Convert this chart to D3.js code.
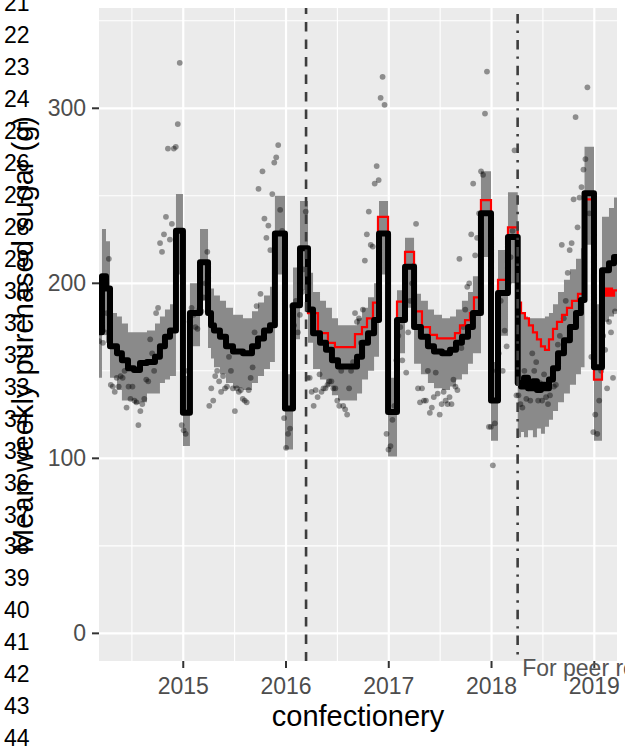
<!DOCTYPE html>
<html>
<head>
<meta charset="utf-8">
<script src="https://cdn.jsdelivr.net/npm/d3@7"></script>
<style>
  body { margin: 0; background: #fff; }
  svg { display: block; font-family: "Liberation Sans", Arial, Helvetica, sans-serif; }
</style>
</head>
<body>
<svg id="chart" width="625" height="755"></svg>
<script>
'use strict';

// ---- values ----
var xTicks = [2015, 2016, 2017, 2018, 2019];
var xMinor = [2014.5, 2015.5, 2016.5, 2017.5, 2018.5];
var yTicks = [0, 100, 200, 300];
var yMinor = [50, 150, 250, 350];
var lineNumbers = [21, 22, 23, 24, 25, 26, 27, 28, 29, 30, 31, 32,
  33, 34, 35, 36, 37, 38, 39, 40, 41, 42, 43, 44];

// announcement and levy start (decimal years)
var interventions = [2016.195, 2018.254];

// fitted model: step breakpoints, fitted mean and its band
var fitYears = [
  2014.180, 2014.209, 2014.248, 2014.287, 2014.355, 2014.403, 2014.462, 2014.520, 2014.579, 2014.647,
  2014.725, 2014.773, 2014.822, 2014.871, 2014.929, 2014.997, 2015.065, 2015.163, 2015.241, 2015.270,
  2015.299, 2015.357, 2015.416, 2015.484, 2015.581, 2015.669, 2015.727, 2015.786, 2015.844, 2015.892,
  2015.990, 2016.068, 2016.136, 2016.214, 2016.263, 2016.331, 2016.389, 2016.447, 2016.506, 2016.691,
  2016.740, 2016.798, 2016.857, 2016.905, 2016.993, 2017.080, 2017.158, 2017.246, 2017.313, 2017.381,
  2017.440, 2017.518, 2017.596, 2017.654, 2017.712, 2017.771, 2017.819, 2017.897, 2017.995, 2018.063,
  2018.160, 2018.255, 2018.287, 2018.316, 2018.355, 2018.403, 2018.442, 2018.481, 2018.520, 2018.559,
  2018.598, 2018.647, 2018.705, 2018.763, 2018.822, 2018.870, 2018.905, 2018.997, 2019.075, 2019.143,
  2019.192
];
var fitValues = [
  172, 204, 197, 164, 160, 156, 151.5, 150.5, 154.5, 155,
  158, 164, 169.5, 173, 230, 126, 183, 212, 183, 176,
  173, 169.5, 164, 161, 160, 164, 168.5, 173, 176, 228.5,
  128.5, 187.5, 220, 185, 171.5, 166, 162, 156, 152.5, 158,
  166, 171.5, 179, 228.5, 126.5, 179, 209.5, 175, 169.5, 164,
  161, 160, 162, 166, 169.5, 175, 183, 240, 133, 194.5,
  226.5, 143, 141, 146, 140, 144, 139, 142, 140, 145,
  151.5, 160, 167.5, 175, 183, 190.5, 251.5, 152, 207.5, 211.5,
  215
];
var fitLower = [
  146, 172, 166, 146, 139, 133, 133, 131, 132, 137,
  137, 143, 145, 147, 205, 107, 164, 190, 163, 157,
  152, 148, 143, 140, 139, 143, 147, 151, 155, 205,
  105, 168, 196, 166, 151, 145, 141, 136, 133, 137,
  145, 150, 158, 205, 101, 160, 186, 154, 148, 143,
  140, 139, 141, 145, 148, 154, 160, 215, 110, 170,
  200, 112, 115, 112, 116, 112, 117, 114, 118, 122,
  127, 132, 137, 142, 148, 152, 222, 110, 178, 181,
  184
];
var fitUpper = [
  196, 231, 224, 183, 181, 177, 172, 172, 172, 173,
  177, 181, 185, 188, 251, 147, 200, 231, 202, 197,
  193, 190, 186, 182, 180, 184, 189, 193, 198, 250,
  148, 209, 247, 206, 195, 190, 186, 180, 176, 180,
  186, 192, 200, 247, 146, 196, 226, 194, 190, 185,
  182, 180, 181, 185, 190, 195, 204, 264, 155, 219,
  252, 185, 183, 181, 180, 180, 180, 180, 181, 183,
  188, 195, 202, 208, 214, 220, 278, 188, 238, 243,
  249
];

// counterfactual (no levy) from the announcement on
var cfYears = [
  2016.195, 2016.214, 2016.311, 2016.408, 2016.476, 2016.671, 2016.739, 2016.788, 2016.846, 2016.895,
  2016.993, 2017.080, 2017.158, 2017.246, 2017.323, 2017.401, 2017.469, 2017.644, 2017.693, 2017.742,
  2017.790, 2017.829, 2017.897, 2017.995, 2018.063, 2018.160, 2018.255, 2018.287, 2018.325, 2018.364,
  2018.403, 2018.442, 2018.481, 2018.520, 2018.559, 2018.598, 2018.637, 2018.686, 2018.734, 2018.783,
  2018.841, 2018.905, 2018.997, 2019.075, 2019.094, 2019.114, 2019.133, 2019.153, 2019.172, 2019.192
];
var cfValues = [
  220, 183, 171.5, 166, 163.5, 171, 175, 180, 189, 238,
  126.5, 189.5, 218, 184, 175, 170.5, 168.5, 171.5, 176, 179,
  183, 192, 247.5, 133, 202, 232, 189, 183, 180, 176,
  172, 168, 164, 162, 168, 174, 178, 182, 186, 190,
  194, 248, 145, 198, 193, 197, 193, 197, 193, 196
];

// weekly observed means, first week 2014.180
var firstWeek = 2014.180;
var weekLength = 7 / 365.25;
var observed = [
  // 2014
  167, 177, 166, 172, 183, 214, 142, 141, 138, 146, 141, 147, 146, 150, 129, 141, 134, 141, 133, 132,
  119, 127, 131, 134, 145, 144, 168, 160, 150, 183, 186, 223, 218, 228, 238, 277, 225, 234, 277, 278,
  291, 326, 119,
  // 2015
  116, 114, 150, 178, 186, 182, 175, 174, 185, 184, 192, 200, 218, 130, 140, 133, 147, 150, 144, 138,
  147, 140, 141, 158, 150, 140, 127, 140, 138, 139, 134, 133, 132, 139, 146, 152, 172, 187, 254, 194,
  264, 237, 226, 233, 219, 251, 269, 272, 279, 242, 230, 123, 106,
  // 2016
  114, 117, 187, 176, 190, 172, 182, 195, 208, 241, 146, 146, 138, 130, 139, 135, 148, 138, 140, 140,
  142, 144, 144, 140, 140, 133, 130, 150, 130, 128, 125, 140, 150, 155, 183, 178, 180, 166, 185, 213,
  228, 241, 222, 221, 257, 267, 259, 306, 318, 302, 114, 105,
  // 2017
  107, 122, 130, 156, 170, 175, 156, 180, 149, 172, 190, 200, 210, 234, 140, 132, 140, 133, 133, 150,
  126, 129, 135, 149, 137, 125, 131, 138, 133, 131, 135, 131, 145, 141, 139, 214, 163, 175, 185, 198,
  200, 228, 257, 216, 226, 240, 264, 262, 297, 321, 118, 118,
  // 2018 and early 2019
  96, 120, 150, 160, 190, 150, 173, 164, 200, 215, 230, 276, 136, 136, 131, 129, 150, 134, 140, 133,
  160, 150, 155, 133, 143, 133, 148, 135, 131, 136, 145, 141, 142, 165, 170, 222, 180, 190, 206, 219,
  223, 248, 295, 232, 249, 255, 265, 271, 312, 240, 158, 115, 125, 114, 133, 150, 170, 162, 140, 178,
  172, 146, 184
];

// ---- layout ----
var W = 625, H = 755;
var panel = { left: 99, right: 617, top: 8, bottom: 661 };

var x = d3.scaleLinear().domain([2014.180, 2019.221]).range([panel.left, panel.right]);
var y = d3.scaleLinear().domain([-15.8, 357.3]).range([panel.bottom, panel.top]);

var svg = d3.select('#chart');

svg.append('rect').attr('width', W).attr('height', H).attr('fill', '#fff');

svg.append('defs').append('clipPath').attr('id', 'panel-clip')
  .append('rect')
  .attr('x', panel.left).attr('y', panel.top)
  .attr('width', panel.right - panel.left).attr('height', panel.bottom - panel.top);

svg.append('rect')
  .attr('x', panel.left).attr('y', panel.top)
  .attr('width', panel.right - panel.left).attr('height', panel.bottom - panel.top)
  .attr('fill', '#ebebeb');

var plot = svg.append('g').attr('clip-path', 'url(#panel-clip)');

// grid
var grid = plot.append('g').attr('stroke', '#fff');
grid.selectAll('.ymin').data(yMinor).enter().append('line')
  .attr('x1', panel.left).attr('x2', panel.right)
  .attr('y1', function (d) { return y(d); }).attr('y2', function (d) { return y(d); })
  .attr('stroke-width', 1.1);
grid.selectAll('.xmin').data(xMinor).enter().append('line')
  .attr('y1', panel.top).attr('y2', panel.bottom)
  .attr('x1', function (d) { return x(d); }).attr('x2', function (d) { return x(d); })
  .attr('stroke-width', 1.1);
grid.selectAll('.ymaj').data(yTicks).enter().append('line')
  .attr('x1', panel.left).attr('x2', panel.right)
  .attr('y1', function (d) { return y(d); }).attr('y2', function (d) { return y(d); })
  .attr('stroke-width', 2.2);
grid.selectAll('.xmaj').data(xTicks).enter().append('line')
  .attr('y1', panel.top).attr('y2', panel.bottom)
  .attr('x1', function (d) { return x(d); }).attr('x2', function (d) { return x(d); })
  .attr('stroke-width', 2.2);

// series
var end = x.domain()[1];

var fitted = fitYears.map(function (t, i) {
  return { t: t, v: fitValues[i], lo: fitLower[i], hi: fitUpper[i] };
});
fitted.push({ t: end, v: fitted[fitted.length - 1].v, lo: fitted[fitted.length - 1].lo, hi: fitted[fitted.length - 1].hi });

var counterfactual = cfYears.map(function (t, i) { return { t: t, v: cfValues[i] }; });
counterfactual.push({ t: end, v: counterfactual[counterfactual.length - 1].v });

var points = observed.map(function (v, i) { return { t: firstWeek + i * weekLength, v: v }; });

var band = d3.area().curve(d3.curveStepAfter)
  .x(function (d) { return x(d.t); })
  .y0(function (d) { return y(d.lo); })
  .y1(function (d) { return y(d.hi); });

var step = d3.line().curve(d3.curveStepAfter)
  .x(function (d) { return x(d.t); })
  .y(function (d) { return y(d.v); });

plot.append('path').datum(fitted).attr('d', band).attr('fill', '#8a8a8a');

plot.append('g').selectAll('circle').data(points).enter().append('circle')
  .attr('cx', function (d) { return x(d.t); })
  .attr('cy', function (d) { return y(d.v); })
  .attr('r', 2.9)
  .attr('fill', '#000')
  .attr('fill-opacity', 0.4);

plot.append('path').datum(counterfactual).attr('d', step)
  .attr('fill', 'none').attr('stroke', '#ff0000').attr('stroke-width', 2.2);

plot.append('path').datum(fitted).attr('d', step)
  .attr('fill', 'none').attr('stroke', '#000').attr('stroke-width', 6)
  .attr('stroke-linejoin', 'round');

// intervention lines: dashed, then dot-dash
var dashes = ['9.5,8', '2.4,7,9.5,7'];
plot.selectAll('.vline').data(interventions).enter().append('line')
  .attr('x1', function (d) { return x(d); }).attr('x2', function (d) { return x(d); })
  .attr('y1', panel.top).attr('y2', panel.bottom)
  .attr('stroke', '#3d3d3d').attr('stroke-width', 2.6)
  .attr('stroke-dasharray', function (d, i) { return dashes[i]; })
  .attr('stroke-dashoffset', 3.4);

// axes
var axisG = svg.append('g');
axisG.selectAll('.ytick').data(yTicks).enter().append('line')
  .attr('x1', panel.left - 7).attr('x2', panel.left)
  .attr('y1', function (d) { return y(d); }).attr('y2', function (d) { return y(d); })
  .attr('stroke', '#333').attr('stroke-width', 2);
axisG.selectAll('.ylab').data(yTicks).enter().append('text')
  .attr('x', panel.left - 13)
  .attr('y', function (d) { return y(d) + 8; })
  .attr('text-anchor', 'end')
  .attr('font-size', 23).attr('fill', '#4d4d4d')
  .text(function (d) { return d; });

axisG.selectAll('.xtick').data(xTicks).enter().append('line')
  .attr('y1', panel.bottom).attr('y2', panel.bottom + 7)
  .attr('x1', function (d) { return x(d); }).attr('x2', function (d) { return x(d); })
  .attr('stroke', '#333').attr('stroke-width', 2);
axisG.selectAll('.xlab').data(xTicks).enter().append('text')
  .attr('x', function (d) { return x(d); })
  .attr('y', panel.bottom + 32.5)
  .attr('text-anchor', 'middle')
  .attr('font-size', 23).attr('fill', '#4d4d4d')
  .text(function (d) { return d; });

// note next to the levy line
svg.append('text')
  .attr('x', x(interventions[1]) + 4.5).attr('y', 676)
  .attr('font-size', 23).attr('fill', '#555')
  .text('For peer review');

// titles
svg.append('text')
  .attr('x', (panel.left + panel.right) / 2).attr('y', 725.5)
  .attr('text-anchor', 'middle').attr('font-size', 29).attr('fill', '#000')
  .text('confectionery');

svg.append('text')
  .attr('transform', 'translate(33,' + ((panel.top + panel.bottom) / 2) + ') rotate(-90)')
  .attr('text-anchor', 'middle').attr('font-size', 29).attr('fill', '#000')
  .text('Mean weekly purchased sugar (g)');

// manuscript line numbers down the left margin
svg.append('g').selectAll('text').data(lineNumbers).enter().append('text')
  .attr('x', 4)
  .attr('y', function (d, i) { return 11 + i * 31.97; })
  .attr('font-size', 23).attr('fill', '#000')
  .text(function (d) { return d; });
</script>
</body>
</html>
